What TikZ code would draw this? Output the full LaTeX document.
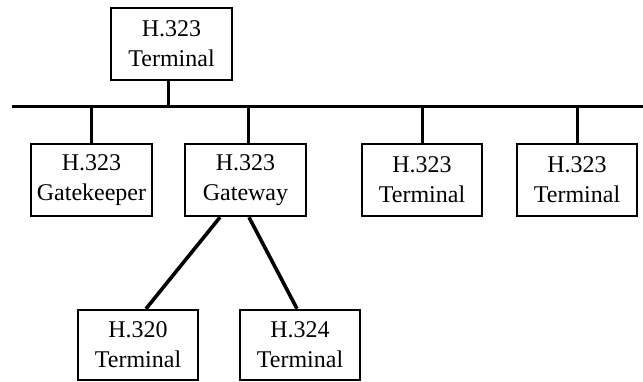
\documentclass[tikz,border=0pt]{standalone}
\usepackage{fontspec}
\setmainfont{Liberation Serif}
\begin{document}
\begin{tikzpicture}[x=1pt,y=-1pt,
  box/.style={draw, line width=2.5pt, minimum width=121pt, minimum height=72pt, inner sep=0pt, align=center, font=\fontsize{24}{30}\selectfont},
  wire/.style={line width=3pt},
  diag/.style={line width=3.6pt}]
\useasboundingbox (0,0) rectangle (643,382);
\node[box] (top) at (171.5,44) {H.323\\Terminal};
\node[box] (gk) at (91.5,180) {H.323\\Gatekeeper};
\node[box] (gw) at (245.5,180) {H.323\\Gateway};
\node[box, minimum width=120pt] (t3) at (422,180) {H.323\\Terminal};
\node[box, minimum width=120pt] (t4) at (577,180) {H.323\\Terminal};
\node[box, minimum width=120pt, minimum height=70pt] (h320) at (138,345) {H.320\\Terminal};
\node[box, minimum width=120pt, minimum height=70pt] (h324) at (300,345) {H.324\\Terminal};
\coordinate (busL) at (12,107);
\coordinate (busR) at (643,107);
\draw[wire] (busL) -- (busR);
\draw[wire] ([xshift=-3.5pt]top.south) -- ([xshift=-3.5pt]top.south |- busL);
\draw[wire] (gk.north) -- (gk.north |- busL);
\draw[wire] ([xshift=2.5pt]gw.north) -- ([xshift=2.5pt]gw.north |- busL);
\draw[wire] (t3.north) -- (t3.north |- busL);
\draw[wire] (t4.north) -- (t4.north |- busL);
\draw[diag] ([xshift=-25.5pt]gw.south) -- ([xshift=8pt]h320.north);
\draw[diag] ([xshift=3.5pt]gw.south) -- ([xshift=-3pt]h324.north);
\end{tikzpicture}
\end{document}
